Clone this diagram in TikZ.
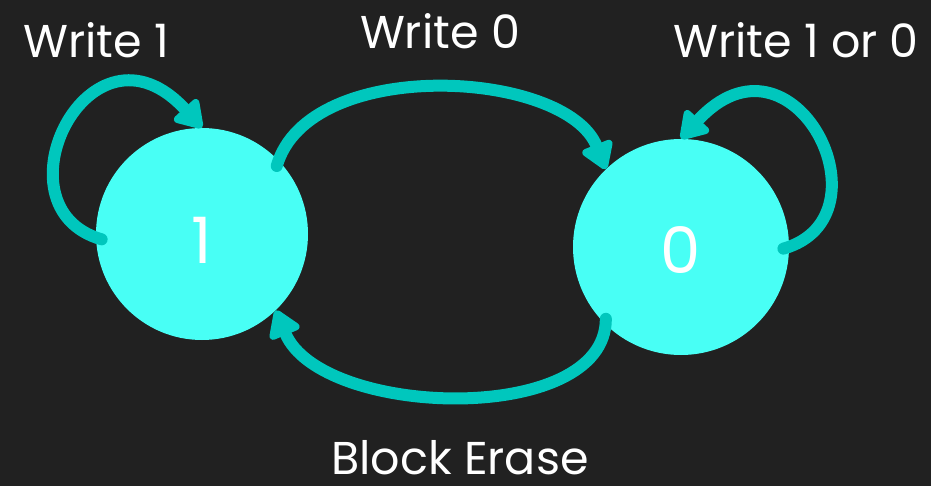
\documentclass[tikz,border=0pt]{standalone}
\usepackage{fontspec}
\setmainfont{Poppins}
\usetikzlibrary{arrows.meta,calc}
\definecolor{bgdark}{HTML}{212121}
\definecolor{statefill}{HTML}{48FFF5}
\definecolor{edgeteal}{HTML}{00C7BD}
\begin{document}
\begin{tikzpicture}[x=1pt,y=-1pt,
  state/.style={circle,fill=statefill,draw=none,minimum size=#1,inner sep=0pt},
  edge/.style={draw=edgeteal,line width=12pt,line cap=round,
    -{Triangle[length=30pt,width=36pt,round=false]}},
  lbl/.style={text=white,font=\fontsize{46}{50}\selectfont,anchor=base,inner sep=0pt},
  digit/.style={text=white,font=\fontsize{64}{70}\selectfont,anchor=base,inner sep=0pt}]
  % canvas
  \fill[bgdark] (0,0) rectangle (931,486);
  \useasboundingbox (0,0) rectangle (931,486);
  % states
  \node[state=212pt] (one) at (202,234) {};
  \node[state=216pt] (zero) at (681,247) {};
  \node[digit] (onetxt) at (202,263) {1};
  \node[digit] (zerotxt) at (681,273) {0};
  % transitions
  \draw[edge,shorten <=-6pt] (one.182) .. controls +(-105,-30) and +(-112,-122) .. (one.90);
  \draw[edge,shorten <=-6pt] (one.44) .. controls +(30,-105) and +(-40,-100) .. (zero.134);
  \draw[edge,shorten <=-6pt] (zero.0) .. controls +(105,-30) and +(112,-122) .. (zero.90);
  \draw[edge,shorten <=-6pt] (zero.226) .. controls +(0,102) and +(45,108) .. (one.314);
  % labels
  \node[lbl] (w1) at (96,58) {Write 1};
  \node[lbl] (w0) at (440,49) {Write 0};
  \node[lbl] (w10) at (796,58) {Write 1 or 0};
  \node[lbl] (be) at (460,474) {Block Erase};
\end{tikzpicture}
\end{document}
